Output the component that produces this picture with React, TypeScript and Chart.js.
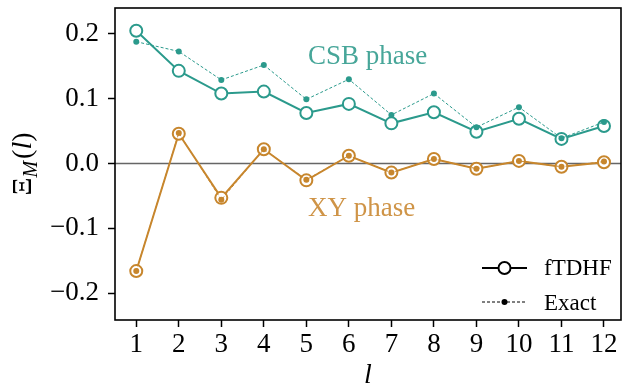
import { useEffect, useRef } from "react";
import { Chart, registerables } from "chart.js";

Chart.register(...registerables);

const lValues = [1, 2, 3, 4, 5, 6, 7, 8, 9, 10, 11, 12];
const csbFtdhf = [0.205, 0.143, 0.108, 0.111, 0.078, 0.092, 0.062, 0.079, 0.049, 0.069, 0.038, 0.058];
const csbExact = [0.188, 0.173, 0.129, 0.152, 0.099, 0.13, 0.075, 0.108, 0.056, 0.087, 0.039, 0.064];
const xyFtdhf = [-0.166, 0.046, -0.053, 0.022, -0.026, 0.012, -0.014, 0.007, -0.008, 0.004, -0.005, 0.002];
const xyExact = [-0.166, 0.047, -0.056, 0.022, -0.025, 0.012, -0.014, 0.007, -0.008, 0.004, -0.005, 0.003];
const xTickLabels = ["1", "2", "3", "4", "5", "6", "7", "8", "9", "10", "11", "12"];
const yTickValues = [-0.2, -0.1, 0, 0.1, 0.2];
const yTickLabels = ["\u22120.2", "\u22120.1", "0.0", "0.1", "0.2"];
const seriesNames = ["fTDHF", "Exact"];
const phaseNames = ["CSB phase", "XY phase"];

const TEAL = "#2b9a8c";
const ORANGE = "#c7862d";
const TEAL_TXT = "#47a699";
const ORANGE_TXT = "#cf9447";
const SERIF = "'Liberation Serif', 'DejaVu Serif', serif";

const toPts = (ys: number[]) => lValues.map((x, i) => ({ x, y: ys[i] }));

const zeroPad = (s: any) => {
  s.paddingTop = 0;
  s.paddingBottom = 0;
  s.paddingLeft = 0;
  s.paddingRight = 0;
};

const decor = {
  id: "decor",
  beforeDatasetsDraw(chart: any) {
    const { ctx, chartArea: a, scales } = chart;
    const y0 = scales.y.getPixelForValue(0);
    ctx.save();
    ctx.strokeStyle = "#666666";
    ctx.lineWidth = 1.6;
    ctx.beginPath();
    ctx.moveTo(a.left, y0);
    ctx.lineTo(a.right, y0);
    ctx.stroke();
    ctx.restore();
  },
  afterDraw(chart: any) {
    const { ctx, chartArea: a } = chart;
    ctx.save();
    ctx.strokeStyle = "#000";
    ctx.lineWidth = 1.6;
    ctx.strokeRect(a.left, a.top, a.right - a.left, a.bottom - a.top);

    ctx.font = `27px ${SERIF}`;
    ctx.textAlign = "left";
    ctx.textBaseline = "alphabetic";
    ctx.fillStyle = TEAL_TXT;
    ctx.fillText(phaseNames[0], 308, 64);
    ctx.fillStyle = ORANGE_TXT;
    ctx.fillText(phaseNames[1], 308, 216);

    const lx0 = a.right - 139;
    const lx1 = a.right - 94;
    const ly1 = 268;
    const ly2 = 302;
    ctx.strokeStyle = "#000";
    ctx.lineWidth = 2;
    ctx.setLineDash([]);
    ctx.beginPath();
    ctx.moveTo(lx0, ly1);
    ctx.lineTo(lx1, ly1);
    ctx.stroke();
    ctx.beginPath();
    ctx.arc((lx0 + lx1) / 2, ly1, 6, 0, Math.PI * 2);
    ctx.fillStyle = "#fff";
    ctx.fill();
    ctx.stroke();
    ctx.lineWidth = 1;
    ctx.setLineDash([3, 2]);
    ctx.beginPath();
    ctx.moveTo(lx0, ly2);
    ctx.lineTo(lx1, ly2);
    ctx.stroke();
    ctx.setLineDash([]);
    ctx.beginPath();
    ctx.arc((lx0 + lx1) / 2, ly2, 3, 0, Math.PI * 2);
    ctx.fillStyle = "#000";
    ctx.fill();
    ctx.font = `23px ${SERIF}`;
    ctx.textBaseline = "middle";
    ctx.fillText(seriesNames[0], a.right - 77, ly1 + 1);
    ctx.fillText(seriesNames[1], a.right - 77, ly2 + 2);

    ctx.font = `italic 28px ${SERIF}`;
    ctx.textAlign = "center";
    ctx.textBaseline = "alphabetic";
    ctx.fillText("l", (a.left + a.right) / 2, 383);

    ctx.translate(31, (a.top + a.bottom) / 2);
    ctx.rotate(-Math.PI / 2);
    const parts = [
      { t: "\u039E", f: `28px ${SERIF}`, dy: 0 },
      { t: "M", f: `italic 20px ${SERIF}`, dy: 6 },
      { t: "(", f: `28px ${SERIF}`, dy: 0 },
      { t: "l", f: `italic 28px ${SERIF}`, dy: 0 },
      { t: ")", f: `28px ${SERIF}`, dy: 0 },
    ];
    let total = 0;
    const widths = parts.map((p) => {
      ctx.font = p.f;
      const w = ctx.measureText(p.t).width + (p.t === "M" ? 2 : 0);
      total += w;
      return w;
    });
    let cx = -total / 2;
    ctx.textAlign = "left";
    parts.forEach((p, i) => {
      ctx.font = p.f;
      ctx.fillText(p.t, cx, p.dy);
      cx += widths[i];
    });
    ctx.restore();
  },
};

export default function App() {
  const ref = useRef<HTMLCanvasElement>(null);
  useEffect(() => {
    if (!ref.current) return;
    const tickFont = { family: SERIF, size: 27 };
    const chart = new Chart(ref.current, {
      type: "line",
      data: {
        datasets: [
          {
            label: "CSB " + seriesNames[1],
            data: toPts(csbExact),
            borderColor: TEAL,
            backgroundColor: TEAL,
            borderWidth: 1,
            borderDash: [3, 2],
            pointRadius: 3,
            pointBorderWidth: 0,
            pointBackgroundColor: TEAL,
            order: 0,
          },
          {
            label: "XY " + seriesNames[1],
            data: toPts(xyExact),
            borderColor: ORANGE,
            backgroundColor: ORANGE,
            borderWidth: 1,
            borderDash: [3, 2],
            pointRadius: 3,
            pointBorderWidth: 0,
            pointBackgroundColor: ORANGE,
            order: 0,
          },
          {
            label: "CSB " + seriesNames[0],
            data: toPts(csbFtdhf),
            borderColor: TEAL,
            backgroundColor: "#fff",
            borderWidth: 2,
            pointRadius: 6,
            pointBorderWidth: 2,
            pointBorderColor: TEAL,
            pointBackgroundColor: "#fff",
            order: 1,
          },
          {
            label: "XY " + seriesNames[0],
            data: toPts(xyFtdhf),
            borderColor: ORANGE,
            backgroundColor: "#fff",
            borderWidth: 2,
            pointRadius: 6,
            pointBorderWidth: 2,
            pointBorderColor: ORANGE,
            pointBackgroundColor: "#fff",
            order: 1,
          },
        ],
      },
      options: {
        animation: false,
        responsive: false,
        devicePixelRatio: 1,
        layout: { padding: { top: 7, right: 1, left: 0, bottom: 0 } },
        plugins: { legend: { display: false }, tooltip: { enabled: false } },
        scales: {
          x: {
            type: "linear",
            min: 0.5,
            max: 12.4,
            afterBuildTicks: (s: any) => {
              s.ticks = lValues.map((v) => ({ value: v }));
            },
            afterFit: (s: any) => {
              s.height = 68;
              zeroPad(s);
            },
            ticks: {
              callback: (_v: any, i: number) => xTickLabels[i],
              font: tickFont,
              color: "#000",
              padding: 2,
              maxRotation: 0,
              autoSkip: false,
            },
            grid: { drawOnChartArea: false, drawTicks: true, tickLength: 7, tickWidth: 1.5, tickColor: "#000" },
            border: { display: false },
          },
          y: {
            type: "linear",
            min: -0.2415,
            max: 0.24,
            afterBuildTicks: (s: any) => {
              s.ticks = yTickValues.map((v) => ({ value: v }));
            },
            afterFit: (s: any) => {
              s.width = 115;
              zeroPad(s);
            },
            ticks: {
              callback: (_v: any, i: number) => yTickLabels[i],
              font: tickFont,
              color: "#000",
              padding: 9,
              autoSkip: false,
            },
            grid: { drawOnChartArea: false, drawTicks: true, tickLength: 7, tickWidth: 1.5, tickColor: "#000" },
            border: { display: false },
          },
        },
      },
      plugins: [decor],
    });
    return () => chart.destroy();
  }, []);
  return (
    <div style={{ position: "absolute", left: 0, top: 0, width: 629, height: 388, background: "#fff" }}>
      <canvas ref={ref} width={629} height={388} style={{ display: "block" }} />
    </div>
  );
}
